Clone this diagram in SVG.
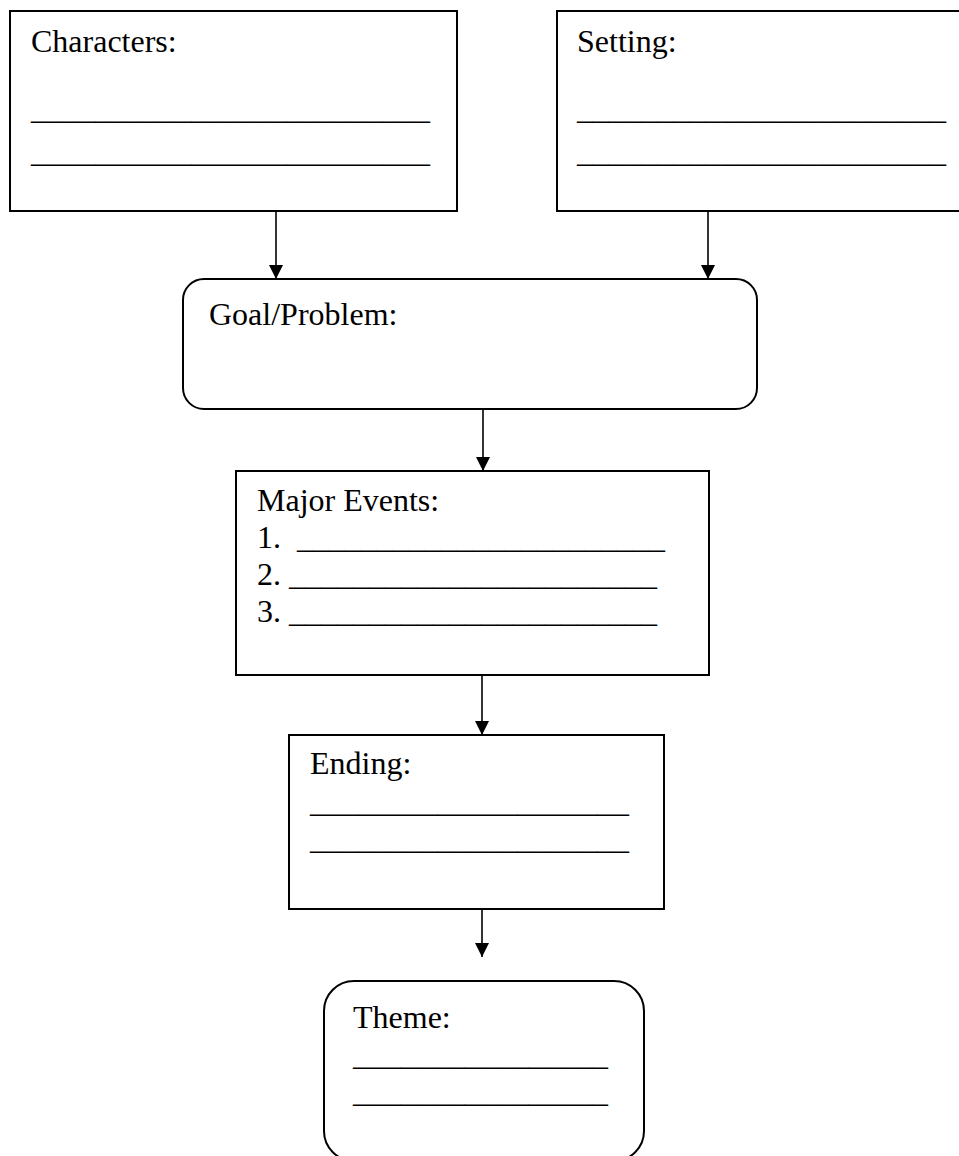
<svg xmlns="http://www.w3.org/2000/svg" width="959" height="1156" viewBox="0 0 959 1156">
  <style>
    .box { fill: #ffffff; stroke: #000000; stroke-width: 2; }
    .lbl { font-family: "Liberation Serif", "Times New Roman", serif; font-size: 32px; fill: #000000; }
    .conn { stroke: #000000; stroke-width: 1.6; fill: none; marker-end: url(#arrow); }
  </style>
  <defs>
    <marker id="arrow" markerUnits="userSpaceOnUse" markerWidth="15" markerHeight="15" refX="14" refY="7" orient="auto">
      <path d="M0,0 L14,7 L0,14 Z" fill="#000000"/>
    </marker>
  </defs>

  <rect width="959" height="1156" fill="#ffffff"/>

  <!-- story elements -->
  <g id="characters">
    <rect class="box" x="10" y="11" width="447" height="200"/>
    <text class="lbl" x="31" y="52">Characters:</text>
    <text class="lbl" x="31" y="119" textLength="399" lengthAdjust="spacingAndGlyphs">_________________________</text>
    <text class="lbl" x="31" y="162" textLength="399" lengthAdjust="spacingAndGlyphs">_________________________</text>
  </g>

  <g id="setting">
    <rect class="box" x="557" y="11" width="420" height="200"/>
    <text class="lbl" x="577" y="52">Setting:</text>
    <text class="lbl" x="577" y="119" textLength="369" lengthAdjust="spacingAndGlyphs">_______________________</text>
    <text class="lbl" x="577" y="162" textLength="369" lengthAdjust="spacingAndGlyphs">_______________________</text>
  </g>

  <g id="goal">
    <rect class="box" x="183" y="279" width="574" height="130" rx="21" ry="21"/>
    <text class="lbl" x="209" y="325">Goal/Problem:</text>
  </g>

  <g id="events">
    <rect class="box" x="236" y="471" width="473" height="204"/>
    <text class="lbl" x="257" y="511">Major Events:</text>
    <text class="lbl" x="257" y="548">1.<tspan x="297" textLength="368" lengthAdjust="spacingAndGlyphs">_______________________</tspan></text>
    <text class="lbl" x="257" y="585">2.<tspan x="289" textLength="368" lengthAdjust="spacingAndGlyphs">_______________________</tspan></text>
    <text class="lbl" x="257" y="622">3.<tspan x="289" textLength="368" lengthAdjust="spacingAndGlyphs">_______________________</tspan></text>
  </g>

  <g id="ending">
    <rect class="box" x="289" y="735" width="375" height="174"/>
    <text class="lbl" x="310" y="774">Ending:</text>
    <text class="lbl" x="310" y="812" textLength="319" lengthAdjust="spacingAndGlyphs">____________________</text>
    <text class="lbl" x="310" y="849" textLength="319" lengthAdjust="spacingAndGlyphs">____________________</text>
  </g>

  <g id="theme">
    <rect class="box" x="324" y="981" width="320" height="180" rx="30" ry="30"/>
    <text class="lbl" x="353" y="1028">Theme:</text>
    <text class="lbl" x="353" y="1065" textLength="255" lengthAdjust="spacingAndGlyphs">________________</text>
    <text class="lbl" x="353" y="1102" textLength="255" lengthAdjust="spacingAndGlyphs">________________</text>
  </g>

  <!-- flow arrows -->
  <g id="connectors">
    <line class="conn" x1="276" y1="212" x2="276" y2="279"/>
    <line class="conn" x1="708" y1="212" x2="708" y2="279"/>
    <line class="conn" x1="483" y1="410" x2="483" y2="471"/>
    <line class="conn" x1="482" y1="676" x2="482" y2="735"/>
    <line class="conn" x1="482" y1="910" x2="482" y2="957"/>
  </g>
</svg>
